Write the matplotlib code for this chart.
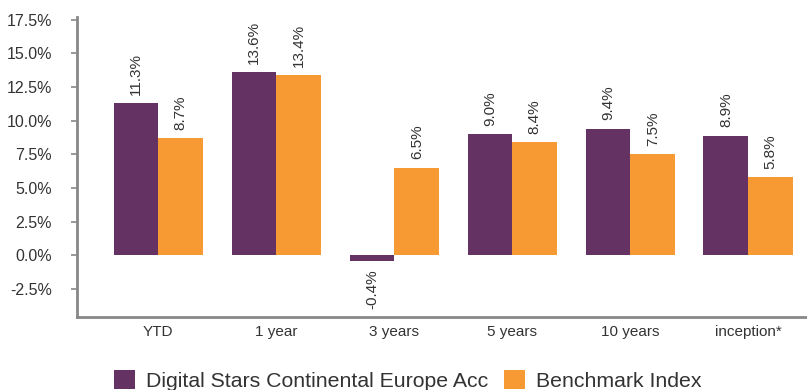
import numpy as np
import matplotlib.pyplot as plt

plt.rcParams['font.family'] = ['Liberation Sans', 'DejaVu Sans']

# data
periods = ['YTD', '1 year', '3 years', '5 years', '10 years', 'inception*']
fund = [11.3, 13.6, -0.4, 9.0, 9.4, 8.9]
bench = [8.7, 13.4, 6.5, 8.4, 7.5, 5.8]
yticks = [-2.5, 0.0, 2.5, 5.0, 7.5, 10.0, 12.5, 15.0, 17.5]

purple = '#643263'
orange = '#F79A34'
txt = '#333333'

fig = plt.figure(figsize=(8.07, 3.9), dpi=100)
ax = fig.add_axes([0.0954, 0.187, 0.905, 0.769])

x = np.arange(len(periods))
w = 0.38
b1 = ax.bar(x - w/2, fund, w, color=purple, label='Digital Stars Continental Europe Acc')
b2 = ax.bar(x + w/2, bench, w, color=orange, label='Benchmark Index')

for bars, vals in [(b1, fund), (b2, bench)]:
    for r, v in zip(bars, vals):
        xc = r.get_x() + r.get_width()/2
        if v >= 0:
            ax.annotate('%.1f%%' % v, (xc, v), xytext=(0, 6), textcoords='offset points',
                        rotation=90, ha='center', va='bottom', fontsize=11, color=txt)
        else:
            ax.annotate('%.1f%%' % v, (xc, v), xytext=(0, -6), textcoords='offset points',
                        rotation=90, ha='center', va='top', fontsize=11, color=txt)

ax.set_xlim(-0.69, 5.5)
ax.set_ylim(-4.6, 17.7)
ax.set_yticks(yticks)
ax.set_yticklabels(['%.1f%%' % t for t in yticks], fontsize=11.5, color=txt)
ax.set_xticks(x)
ax.set_xticklabels(periods, fontsize=11, color=txt)
ax.tick_params(axis='x', length=0, pad=6)
ax.tick_params(axis='y', length=4, width=1.2, color='#888888', pad=14)

for s in ['top', 'right']:
    ax.spines[s].set_visible(False)
for s in ['left', 'bottom']:
    ax.spines[s].set_color('#888888')
    ax.spines[s].set_linewidth(2)

fig.legend(loc='upper center', bbox_to_anchor=(0.505, 0.1), ncol=2, frameon=False,
           fontsize=15.3, handlelength=1.0, handleheight=1.0, handletextpad=0.5,
           columnspacing=0.75, labelcolor=txt)

fig.savefig('out.png', dpi=100)
